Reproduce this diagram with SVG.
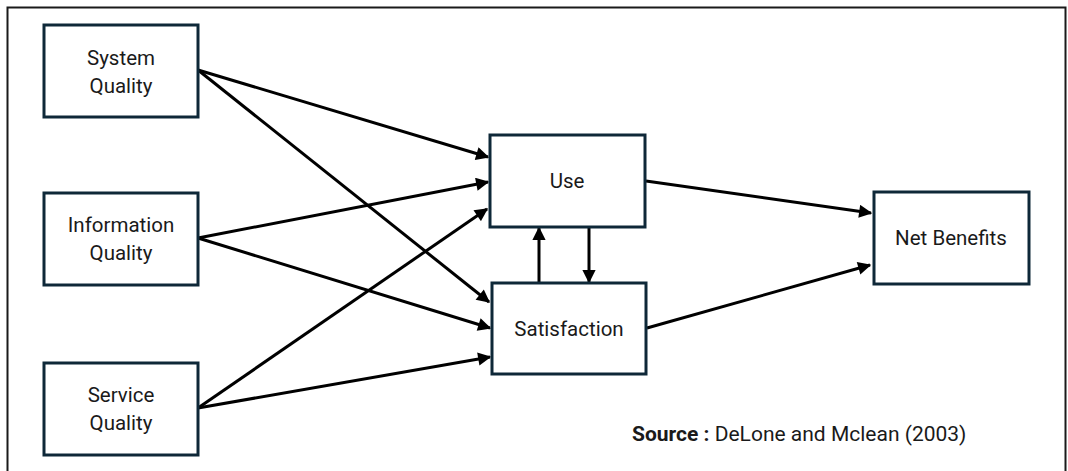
<svg xmlns="http://www.w3.org/2000/svg" width="1068" height="471" viewBox="0 0 1068 471">
  <style>
    .box { fill: #ffffff; stroke: #0e2838; stroke-width: 3; }
    .lbl { font-family: Roboto, "Liberation Sans", sans-serif; font-size: 20.5px; fill: #1a1a1a; text-anchor: middle; }
    .edge { stroke: #000000; stroke-width: 3; fill: none; marker-end: url(#arrow); }
    .src { font-family: Roboto, "Liberation Sans", sans-serif; font-size: 21px; fill: #1a1a1a; }
  </style>
  <defs>
    <marker id="arrow" viewBox="0 0 10 10" refX="9" refY="5" markerWidth="5" markerHeight="4.4" orient="auto" markerUnits="strokeWidth">
      <path d="M0,0 L10,5 L0,10 Z" fill="#000000"/>
    </marker>
  </defs>

  <!-- outer frame -->
  <rect x="7.5" y="7.5" width="1058" height="480" fill="#ffffff" stroke="#1a1a1a" stroke-width="2"/>

  <!-- connectors -->
  <g id="connectors">
    <line class="edge" x1="198" y1="70" x2="488" y2="157"/>
    <line class="edge" x1="198" y1="70" x2="489" y2="302"/>
    <line class="edge" x1="198" y1="238" x2="488" y2="182"/>
    <line class="edge" x1="198" y1="238" x2="490" y2="328"/>
    <line class="edge" x1="198" y1="408" x2="487" y2="209"/>
    <line class="edge" x1="198" y1="408" x2="490" y2="357"/>
    <line class="edge" x1="539" y1="282" x2="539" y2="228"/>
    <line class="edge" x1="589" y1="228" x2="589" y2="282"/>
    <line class="edge" x1="646" y1="181" x2="871" y2="213"/>
    <line class="edge" x1="647" y1="328" x2="870" y2="265"/>
  </g>

  <g id="system-quality">
    <rect class="box" x="44" y="25" width="154" height="92"/>
    <text class="lbl" x="121" y="65">System</text>
    <text class="lbl" x="121" y="93">Quality</text>
  </g>
  <g id="information-quality">
    <rect class="box" x="44" y="193" width="154" height="92"/>
    <text class="lbl" x="121" y="232">Information</text>
    <text class="lbl" x="121" y="260">Quality</text>
  </g>
  <g id="service-quality">
    <rect class="box" x="44" y="363" width="154" height="92"/>
    <text class="lbl" x="121" y="402">Service</text>
    <text class="lbl" x="121" y="430">Quality</text>
  </g>
  <g id="use">
    <rect class="box" x="490" y="135" width="155" height="92"/>
    <text class="lbl" x="567" y="188">Use</text>
  </g>
  <g id="satisfaction">
    <rect class="box" x="492" y="283" width="154" height="91"/>
    <text class="lbl" x="569" y="336">Satisfaction</text>
  </g>
  <g id="net-benefits">
    <rect class="box" x="874" y="192" width="155" height="92"/>
    <text class="lbl" x="951" y="245">Net Benefits</text>
  </g>

  <text class="src" x="632" y="441"><tspan font-weight="bold">Source :</tspan> DeLone and Mclean (2003)</text>
</svg>
